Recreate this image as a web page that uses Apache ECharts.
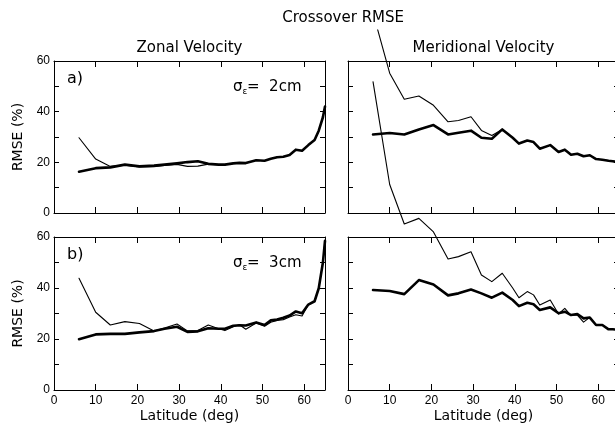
<!DOCTYPE html>
<html><head><meta charset="utf-8">
<script src="https://cdn.jsdelivr.net/npm/echarts@6/dist/echarts.min.js"></script>
<style>html,body{margin:0;padding:0;background:#fff}#c{width:615px;height:427px}</style>
</head><body><div id="c"></div>
<script>
// Latitude grid (deg)
const lat = [6, 10, 13.5, 17, 20.5, 24, 26.5, 29.5, 32, 34.5, 37, 39.5, 41, 43, 44.5, 46, 48.5, 50.5, 52, 53.5, 55, 56.5, 58, 59.5, 61, 62.5, 63.5, 64.5, 65];
// a) sigma = 2 cm
const zonalRmse2  = [16.3, 17.7, 18.0, 19.1, 18.4, 18.7, 19.1, 19.6, 20.1, 20.4, 19.4, 19.1, 19.1, 19.6, 19.8, 19.7, 20.8, 20.6, 21.4, 22.0, 22.2, 22.9, 25.0, 24.6, 26.8, 28.8, 32.5, 37.8, 42.0];
const zonalCross2 = [29.7, 21.3, 18.4, 18.9, 18.2, 18.3, 18.8, 19.2, 18.4, 18.5, 19.3, 19.1, 19.1, 19.6, 19.8, 19.7, 20.8, 20.6, 21.4, 22.0, 22.2, 22.9, 25.0, 24.6, 26.8, 28.8, 32.5, 37.8, 42.0];
const merRmse2    = [31.0, 31.6, 31.0, 33.0, 34.7, 31.0, 31.7, 32.5, 29.7, 29.3, 33.0, 29.7, 27.4, 28.6, 28.0, 25.4, 26.8, 24.1, 25.0, 23.0, 23.4, 22.4, 22.8, 21.3, 21.0, 20.6, 20.4, 20.2, 20.1];
const merCross2   = [79.0, 55.2, 44.9, 46.2, 42.5, 36.0, 36.5, 38.0, 32.6, 30.6, 33.0, 29.7, 27.4, 28.6, 28.0, 25.4, 26.8, 24.1, 25.0, 23.0, 23.4, 22.4, 22.8, 21.3, 21.0, 20.6, 20.4, 20.2, 20.1];
// b) sigma = 3 cm
const zonalRmse3  = [19.9, 21.8, 22.0, 22.0, 22.6, 23.1, 24.0, 24.8, 22.8, 23.0, 24.2, 24.0, 24.0, 25.2, 25.4, 25.3, 26.5, 25.5, 27.3, 27.6, 28.3, 29.2, 30.8, 30.1, 33.5, 34.8, 39.9, 50.0, 58.5];
const zonalCross3 = [43.8, 30.5, 25.5, 26.8, 26.1, 23.1, 24.3, 25.9, 23.2, 23.3, 25.5, 24.0, 23.3, 24.8, 25.6, 23.8, 26.3, 25.0, 26.6, 27.3, 27.6, 28.6, 29.5, 29.0, 33.5, 34.8, 39.9, 50.0, 58.5];
const merRmse3    = [39.2, 38.8, 37.6, 43.1, 41.4, 37.1, 37.9, 39.4, 37.9, 36.2, 38.2, 35.3, 32.9, 34.2, 33.6, 31.4, 32.4, 30.1, 30.7, 29.4, 29.8, 28.1, 28.4, 25.5, 25.5, 23.8, 23.8, 23.7, 23.6];
const merCross3   = [120.9, 80.6, 65.1, 67.3, 62.0, 51.4, 52.3, 54.2, 45.1, 42.5, 45.8, 40.0, 36.2, 38.6, 37.3, 33.3, 35.3, 29.8, 32.0, 29.2, 29.4, 26.6, 28.5, 25.5, 25.5, 23.8, 23.8, 23.7, 23.6];
const xTicks = {min: 0, max: 65, interval: 10};
const yTicks = {min: 0, max: 60, interval: 10, labelEvery: 20};

const LBL = {color: '#000', fontFamily: 'Liberation Sans', fontSize: 12};
const AX = {onZero: false, lineStyle: {color: '#000', width: 1}};
const grids = [
  {left: 54, top: 61, width: 271, height: 152},
  {left: 348, top: 61, width: 271, height: 152},
  {left: 54, top: 237, width: 271, height: 153},
  {left: 348, top: 237, width: 271, height: 153}
].map(g => Object.assign(g, {outerBoundsMode: 'none', containLabel: false, show: false}));

const xAxes = [], yAxes = [];
grids.forEach((g, i) => {
  const bottomRow = i >= 2, leftCol = (i % 2 === 0);
  xAxes.push({type: 'value', gridIndex: i, position: 'bottom', min: xTicks.min, max: xTicks.max, interval: xTicks.interval,
    axisLine: AX, axisTick: {show: true, inside: true, length: 6, lineStyle: {color: '#000'}},
    axisLabel: Object.assign({show: bottomRow, margin: 5, showMaxLabel: false}, LBL), splitLine: {show: false},
    name: bottomRow ? 'Latitude (deg)' : '', nameLocation: 'middle', nameGap: 19,
    nameTextStyle: {color: '#000', fontFamily: 'DejaVu Sans', fontSize: 14}});
  xAxes.push({type: 'value', gridIndex: i, position: 'top', min: xTicks.min, max: xTicks.max, interval: xTicks.interval,
    axisLine: AX, axisTick: {show: true, inside: true, length: 6, lineStyle: {color: '#000'}},
    axisLabel: {show: false}, splitLine: {show: false}});
  yAxes.push({type: 'value', gridIndex: i, position: 'left', min: yTicks.min, max: yTicks.max, interval: yTicks.interval,
    axisLine: AX, axisTick: {show: true, inside: true, length: 5, lineStyle: {color: '#000'}},
    axisLabel: Object.assign({show: leftCol, margin: 4, formatter: v => (v % yTicks.labelEvery === 0 ? String(v) : '')}, LBL),
    splitLine: {show: false},
    name: leftCol ? 'RMSE (%)' : '', nameLocation: 'middle', nameGap: 29,
    nameTextStyle: {color: '#000', fontFamily: 'DejaVu Sans', fontSize: 14}});
  yAxes.push({type: 'value', gridIndex: i, position: 'right', min: yTicks.min, max: yTicks.max, interval: yTicks.interval,
    axisLine: AX, axisTick: {show: true, inside: true, length: 5, lineStyle: {color: '#000'}},
    axisLabel: {show: false}, splitLine: {show: false}});
});

function ser(gi, vals, w, z) {
  return {type: 'line', xAxisIndex: 2 * gi, yAxisIndex: 2 * gi, data: lat.map((x, i) => [x, vals[i]]),
    showSymbol: false, symbol: 'none', clip: false, silent: true, z: z,
    lineStyle: {color: '#000', width: w, join: 'round', cap: 'round'}};
}
const THIN = 1.1, THICK = 2.6;
const series = [
  ser(0, zonalCross2, THIN, 3), ser(0, zonalRmse2, THICK, 4),
  ser(1, merCross2, THIN, 3), ser(1, merRmse2, THICK, 4),
  ser(2, zonalCross3, THIN, 3), ser(2, zonalRmse3, THICK, 4),
  ser(3, merCross3, THIN, 3), ser(3, merRmse3, THICK, 4)
];

const F = 'DejaVu Sans';
function txt(text, x, y, size, align, extra) {
  return {type: 'text', z: 100, x: x, y: y,
    style: Object.assign({text: text, fill: '#000', font: size + 'px "' + F + '"', textAlign: align, textVerticalAlign: 'middle'}, extra || {})};
}
const graphic = [
  txt('Crossover RMSE', 404, 18, 15, 'right', {backgroundColor: '#fff', padding: [2, 0, 6, 0]}),
  txt('Zonal Velocity', 189.5, 48, 15, 'center'),
  txt('Meridional Velocity', 483.5, 48, 15, 'center'),
  txt('a)', 67, 79, 16, 'left'),
  txt('b)', 67, 255, 16, 'left'),
  txt('σ', 233, 87.5, 15, 'left'), txt('ε', 242.5, 92, 9, 'left'), txt('=  2cm', 247, 87.5, 15, 'left'),
  txt('σ', 233, 263.5, 15, 'left'), txt('ε', 242.5, 268, 9, 'left'), txt('=  3cm', 247, 263.5, 15, 'left')
];

const chart = echarts.init(document.getElementById('c'), null, {renderer: 'canvas'});
chart.setOption({
  animation: false,
  backgroundColor: '#fff',
  grid: grids, xAxis: xAxes, yAxis: yAxes, series: series, graphic: graphic
});
</script></body></html>
